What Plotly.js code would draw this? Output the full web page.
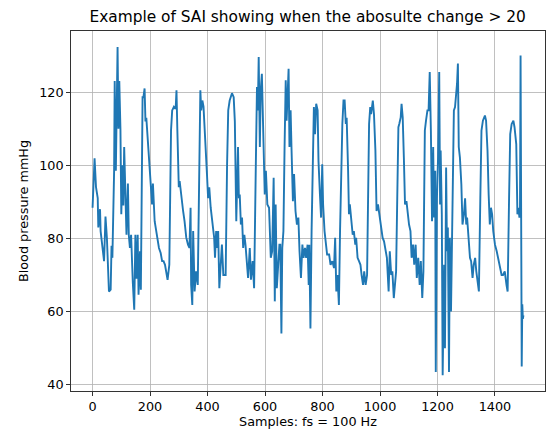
<!DOCTYPE html>
<html>
<head>
<meta charset="utf-8">
<script src="https://cdn.plot.ly/plotly-3.0.1.min.js"></script>
<style>html,body{margin:0;padding:0;background:#fff;}#chart{width:553px;height:434px;}</style>
</head>
<body>
<div id="chart"></div>
<script>
const sampleIdx = [0,7,12,18,20,26,28,34,40,45,50,57,63,66,69,75,77,81,84,87,90,93,97,100,104,107,110,115,118,123,126,130,134,140,145,149,153,157,160,165,168,174,177,181,184,187,191,202,207,210,216,231,237,242,247,252,261,267,273,277,283,289,292,295,300,303,309,315,320,326,332,337,341,343,347,350,355,360,366,369,373,375,378,382,386,391,398,402,406,411,417,423,426,430,434,437,441,445,450,455,463,468,472,477,485,491,495,500,506,509,512,516,520,524,528,532,537,541,547,551,557,562,568,572,575,578,582,585,589,592,595,599,603,608,614,617,620,625,630,634,637,641,645,650,653,657,660,664,668,672,675,678,682,685,689,692,697,701,706,711,716,720,725,730,734,739,743,748,752,754,758,762,766,770,774,778,783,786,791,795,799,802,807,811,816,823,828,834,840,844,848,852,857,861,865,869,873,877,881,884,889,892,895,900,905,909,914,917,922,927,932,936,941,945,950,955,959,962,966,969,975,979,984,988,993,999,1004,1009,1014,1018,1024,1030,1034,1039,1043,1048,1052,1056,1060,1064,1067,1072,1075,1079,1083,1087,1092,1097,1101,1106,1110,1115,1119,1124,1128,1133,1138,1142,1147,1151,1156,1160,1165,1169,1173,1177,1181,1185,1188,1192,1194,1198,1202,1206,1209,1211,1215,1218,1223,1226,1230,1233,1236,1240,1243,1247,1250,1253,1257,1261,1265,1268,1271,1274,1278,1283,1287,1292,1296,1300,1303,1308,1313,1317,1322,1326,1331,1335,1340,1344,1349,1353,1358,1365,1369,1374,1378,1382,1386,1390,1394,1400,1406,1411,1417,1423,1428,1434,1440,1444,1449,1453,1458,1464,1468,1474,1478,1482,1485,1487,1489,1491,1493,1495,1497,1499];
const bpValues = [88.4,101.9,94,91,83,88,82,78.3,73.8,86,80,65.5,66,78,74.7,98.5,123,98.5,123,132.3,110,123,110,86.6,100,89,105,87.5,81,95,81,77.4,81,68,60.5,81,69,81,64.6,76.5,66,118.6,118.6,121,112,113,107.6,94.8,89.3,95,84.7,77.4,76,73.8,73.8,72.8,68.7,72.8,109.5,115,116,115.4,120.5,109.5,94,95.7,91,87.5,84.7,80.2,78.3,77.4,88.4,67.3,61.8,82,65.5,71,67.3,86.6,109.5,120.5,115,117.7,116,109.5,97.6,91,94,88.4,84.7,80.2,74.7,82,77.4,82,66.4,73.8,78.3,70,70,100.3,115,117.7,119.7,118.6,112,84.7,105,91,92,83.8,85.7,77.4,81,78.3,72.8,69.2,77.4,68.7,73.8,66.4,100.3,121.4,115,129.6,105,120.5,125,112.2,100.3,92,98.5,89.3,88.4,82,74.7,76.5,96.6,62.8,89.3,66.4,72.8,78.3,78.3,54,77.4,82,105,123.2,112.2,120.5,126.4,105,115,105,90.2,97.6,87.5,83.8,85.7,76.5,69.2,78.3,74.7,77.4,74.7,78.3,67.3,78.3,55.4,82,103,115.9,108.5,116.8,115,101.2,92,85.7,100.3,89.3,82,78.3,75.6,75.6,72.8,73.8,71.9,80.2,65.5,70,61.8,82,103,111.3,117.7,117.7,111.3,113,98.5,86.6,89.3,84.7,81,82,78.3,80.2,74.7,73.8,72.8,70,67.3,71,67.3,70,91,111.3,115.9,114,117.7,114,104,87.5,89.3,85.7,84,80.2,79.2,77.4,74.7,65.5,76.5,70,71,63.7,67.3,71,91,110.4,111.3,113.1,116.8,113.1,102.1,89.3,90.2,85.7,83.8,82,74.7,78.3,72.8,78.3,69.2,74.7,67.3,73.8,63.7,71,109.5,112.2,115,115,125.5,109.5,84.7,105,85.7,98.5,43.5,91,102.1,125.5,89.3,104,86.6,42.6,72.8,50,99.4,76.5,83,43.5,80.2,60,74.7,100.3,115,115.9,118.6,122.3,127.8,105,102.1,94.8,83.8,86.6,91,83.8,85.7,80.2,74.7,73.8,69.2,72.8,74.7,71,68.3,65.5,91,109.5,112.2,113.6,112.2,104,92,83.8,88.4,86.6,82,78.3,76.5,74.7,71.9,70,70,71,67.3,65.5,91,108.5,111.3,112.2,110.4,105.8,86.6,88.4,85.7,87.5,130,86,45,62,58,59];
const xTicks = [0,200,400,600,800,1000,1200,1400];
const yTicks = [40,60,80,100,120];

const trace = {
  x: sampleIdx, y: bpValues, type: 'scatter', mode: 'lines',
  line: {color: '#1f77b4', width: 1.9}, hoverinfo: 'skip'
};
const font = {family: 'DejaVu Sans', size: 12.8, color: '#000'};
const layout = {
  width: 553, height: 434,
  margin: {l: 71, r: 8, t: 31, b: 43},
  paper_bgcolor: '#fff', plot_bgcolor: '#fff',
  font: font, showlegend: false,
  title: {text: 'Example of SAI showing when the abosulte change > 20', font: {family: 'DejaVu Sans', size: 15.4, color: '#000'}, x: 0.5563, xanchor: 'center', y: 0.962, yanchor: 'middle'},
  xaxis: {
    range: [-75, 1574], tickvals: xTicks, ticktext: xTicks.map(String),
    showgrid: true, gridcolor: '#b0b0b0', gridwidth: 0.8, zeroline: false,
    showline: true, linecolor: '#000', linewidth: 0.8, mirror: true,
    ticks: 'outside', ticklen: 4, tickwidth: 0.8, tickcolor: '#000',
    tickfont: font,
    title: {text: 'Samples: fs = 100 Hz', font: font, standoff: 3}
  },
  yaxis: {
    range: [38.3, 136.7], tickvals: yTicks, ticktext: yTicks.map(String),
    showgrid: true, gridcolor: '#b0b0b0', gridwidth: 0.8, zeroline: false,
    showline: true, linecolor: '#000', linewidth: 0.8, mirror: true,
    ticks: 'outside', ticklen: 4, tickwidth: 0.8, tickcolor: '#000',
    tickfont: font,
    title: {text: 'Blood pressure mmHg', font: font, standoff: 7}
  }
};
Plotly.newPlot('chart', [trace], layout, {displayModeBar: false, staticPlot: true});
</script>
</body>
</html>
